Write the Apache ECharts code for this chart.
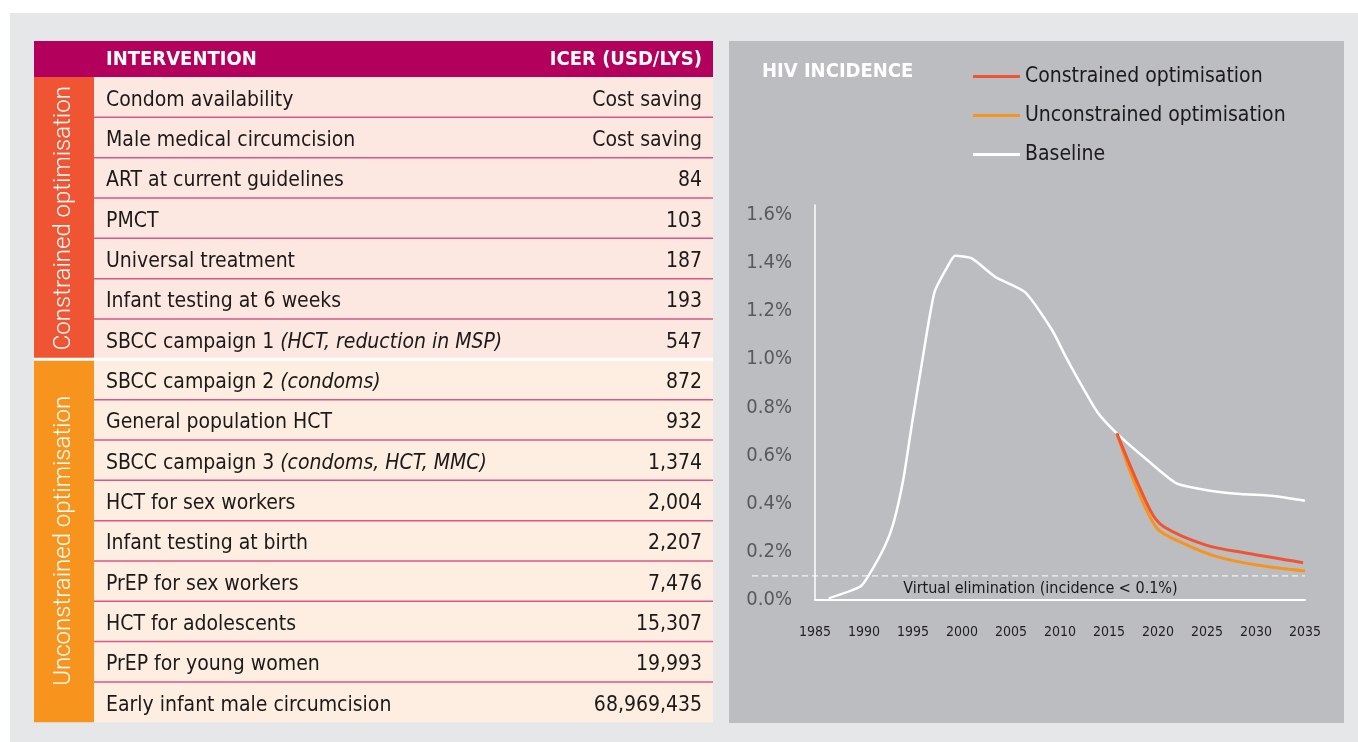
<!DOCTYPE html>
<html>
<head>
<meta charset="utf-8">
<script src="https://cdn.jsdelivr.net/npm/echarts@6/dist/echarts.min.js"></script>
<style>
html, body { margin: 0; padding: 0; background: #fff; }
#main { width: 1358px; height: 742px; }
</style>
</head>
<body>
<div id="main"></div>
<script>
// table data
var interventions = [
  'Condom availability', 'Male medical circumcision', 'ART at current guidelines', 'PMCT',
  'Universal treatment', 'Infant testing at 6 weeks', 'SBCC campaign 1 ',
  'SBCC campaign 2 ', 'General population HCT', 'SBCC campaign 3 ', 'HCT for sex workers',
  'Infant testing at birth', 'PrEP for sex workers', 'HCT for adolescents',
  'PrEP for young women', 'Early infant male circumcision'
];
var notes = ['', '', '', '', '', '', '(HCT, reduction in MSP)', '(condoms)', '',
  '(condoms, HCT, MMC)', '', '', '', '', '', ''];
var icers = ['Cost saving', 'Cost saving', '84', '103', '187', '193', '547', '872', '932',
  '1,374', '2,004', '2,207', '7,476', '15,307', '19,993', '68,969,435'];
var groups = ['Constrained optimisation', 'Unconstrained optimisation'];
var groupSizes = [7, 9];

// incidence lines (year, % incidence)
var baseYears = [1986.4, 1989.6, 1990.4, 1992.1, 1993.0, 1994.0, 1994.9, 1995.9, 1997.2, 1998.6,
  1999.3, 2001.0, 2003.4, 2006.4, 2009.2, 2010.5, 2011.9, 2013.9, 2015.8, 2018.9, 2021.9,
  2025.0, 2028.4, 2031.8, 2035];
var baseValues = [0.007, 0.055, 0.097, 0.221, 0.318, 0.498, 0.733, 0.982, 1.279, 1.390,
  1.429, 1.418, 1.341, 1.279, 1.120, 1.017, 0.913, 0.775, 0.692, 0.581, 0.484,
  0.456, 0.440, 0.432, 0.412];
var consYears = [2015.8, 2019.2, 2020.6, 2024.9, 2029.1, 2034.8];
var consValues = [0.692, 0.373, 0.304, 0.228, 0.194, 0.155];
var unconsYears = [2015.8, 2017.5, 2019.9, 2022.6, 2026.0, 2030.1, 2035];
var unconsValues = [0.692, 0.498, 0.298, 0.235, 0.180, 0.145, 0.120];
var elimination = 0.1;

var narrow = "'Liberation Sans Narrow', 'DejaVu Sans Condensed', Roboto, sans-serif";

function pairs(xs, ys) {
  return xs.map(function (x, i) { return [x, ys[i]]; });
}

var myChart = echarts.init(document.getElementById('main'));

var option = {
  backgroundColor: '#fff',
  animation: false,
  title: {
    text: 'HIV INCIDENCE',
    left: 762, top: 62, padding: 0,
    textStyle: { color: '#fff', fontWeight: 'bold', fontSize: 20, fontFamily: narrow }
  },
  legend: {
    orient: 'vertical',
    left: 973, top: 66, padding: 0,
    itemWidth: 47, itemHeight: 3, itemGap: 18,
    icon: 'rect',
    data: ['Constrained optimisation', 'Unconstrained optimisation', 'Baseline'],
    textStyle: { color: '#1a1a1a', fontSize: 21, fontFamily: narrow }
  },
  grid: { left: 815, right: 53, top: 205, bottom: 142, containLabel: false },
  xAxis: {
    type: 'value', min: 1985, max: 2035, interval: 5,
    axisLine: { lineStyle: { color: '#fff', width: 2 } },
    axisTick: { show: false },
    splitLine: { show: false },
    axisLabel: {
      margin: 25, color: '#231f20', fontSize: 14, fontFamily: narrow,
      formatter: function (v) { return String(v); }
    }
  },
  yAxis: {
    type: 'value', min: 0, max: 1.64, interval: 0.2,
    axisLine: { show: true, lineStyle: { color: '#fff', width: 1.5 } },
    axisTick: { show: false },
    splitLine: { show: false },
    axisLabel: {
      margin: 23, color: '#58595b', fontSize: 20, fontFamily: narrow, showMaxLabel: false,
      formatter: function (v) { return v.toFixed(1) + '%'; }
    }
  },
  series: [
    {
      name: 'Baseline', type: 'line', data: pairs(baseYears, baseValues),
      showSymbol: false, smooth: 0.2, color: '#fff',
      lineStyle: { color: '#fff', width: 2.5 }
    },
    {
      name: 'Unconstrained optimisation', type: 'line', data: pairs(unconsYears, unconsValues),
      showSymbol: false, smooth: 0.3, color: '#f7941d',
      lineStyle: { color: '#f7941d', width: 3 }
    },
    {
      name: 'Constrained optimisation', type: 'line', data: pairs(consYears, consValues),
      showSymbol: false, smooth: 0.3, color: '#ef5533',
      lineStyle: { color: '#ef5533', width: 3 }
    }
  ]
};
myChart.setOption(option);

// table + panels drawn with graphic elements
var tableLeft = 34, tableRight = 713, sideW = 60, headTop = 41, headH = 36, rowH = 40.33;
var rowsTop = headTop + headH;
var els = [];

els.push({ type: 'rect', z: -10, shape: { x: 10, y: 13, width: 1348, height: 729 }, style: { fill: '#e6e7e8' } });
els.push({ type: 'rect', z: -9, shape: { x: 729, y: 41, width: 615, height: 682 }, style: { fill: '#bcbdc0' } });

els.push({ type: 'rect', shape: { x: tableLeft, y: headTop, width: tableRight - tableLeft, height: headH }, style: { fill: '#b3005c' } });
els.push({ type: 'text', style: { text: 'INTERVENTION', x: 106, y: headTop + headH / 2 + 1, verticalAlign: 'middle', fill: '#fff', font: 'bold 20px ' + narrow } });
els.push({ type: 'text', style: { text: 'ICER (USD/LYS)', x: 702, y: headTop + headH / 2 + 1, align: 'right', verticalAlign: 'middle', fill: '#fff', font: 'bold 20px ' + narrow } });

var sideColors = ['#ef5533', '#f7941d'];
var rowColors = ['#fde8e1', '#fdeee1'];
var start = 0;
groups.forEach(function (g, gi) {
  var y0 = rowsTop + start * rowH;
  var h = groupSizes[gi] * rowH;
  els.push({ type: 'rect', shape: { x: tableLeft, y: y0, width: sideW, height: h }, style: { fill: sideColors[gi] } });
  els.push({ type: 'rect', shape: { x: tableLeft + sideW, y: y0, width: tableRight - tableLeft - sideW, height: h }, style: { fill: rowColors[gi] } });
  els.push({
    type: 'text', x: tableLeft + sideW / 2, y: y0 + h / 2, rotation: Math.PI / 2,
    style: { text: g, align: 'center', verticalAlign: 'middle', fill: '#fff', font: '300 24px Roboto, sans-serif' }
  });
  start += groupSizes[gi];
});

interventions.forEach(function (name, i) {
  var y = rowsTop + i * rowH;
  if (i > 0) {
    var white = (i === groupSizes[0]);
    els.push({
      type: 'line', z: 5,
      shape: { x1: white ? tableLeft : tableLeft + sideW, y1: y, x2: tableRight, y2: y },
      style: { stroke: white ? '#fff' : '#d9578a', lineWidth: white ? 3 : 1.5 }
    });
  }
  var txt = '{n|' + name + '}' + (notes[i] ? '{i|' + notes[i] + '}' : '');
  els.push({
    type: 'text', z: 6,
    style: {
      text: txt, x: 106, y: y + rowH / 2 + 3, verticalAlign: 'middle',
      rich: {
        n: { fontSize: 21, fontFamily: narrow, fill: '#1a1a1a' },
        i: { fontSize: 21, fontFamily: narrow, fontStyle: 'italic', fill: '#1a1a1a' }
      }
    }
  });
  els.push({
    type: 'text', z: 6,
    style: { text: icers[i], x: 702, y: y + rowH / 2 + 3, align: 'right', verticalAlign: 'middle', fill: '#1a1a1a', font: '21px ' + narrow }
  });
});

// virtual elimination threshold line, positioned through the chart's own scale
var pEnd = myChart.convertToPixel({ gridIndex: 0 }, [2035, elimination]);
var pText = myChart.convertToPixel({ gridIndex: 0 }, [1994, 0]);
els.push({
  type: 'line', z: 5,
  shape: { x1: 752, y1: pEnd[1], x2: pEnd[0], y2: pEnd[1] },
  style: { stroke: '#fff', lineWidth: 1, lineDash: [6, 4] }
});
els.push({
  type: 'text', z: 5,
  style: { text: 'Virtual elimination (incidence < 0.1%)', x: pText[0], y: pEnd[1] + 13, verticalAlign: 'middle', fill: '#1a1a1a', font: '16px ' + narrow }
});

myChart.setOption({ graphic: { elements: els } });
</script>
</body>
</html>
